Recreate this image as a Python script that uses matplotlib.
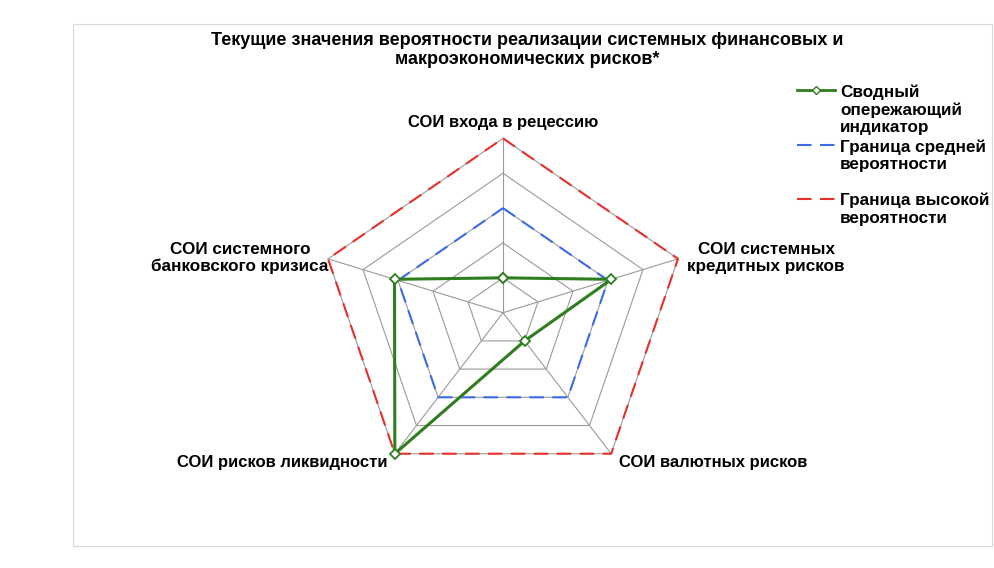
import numpy as np
import matplotlib
matplotlib.use("Agg")
import matplotlib.pyplot as plt
from matplotlib.lines import Line2D
from matplotlib.patches import Rectangle

categories = ["СОИ входа в рецессию",
              "СОИ системных\nкредитных рисков",
              "СОИ валютных рисков",
              "СОИ рисков ликвидности",
              "СОИ системного\nбанковского кризиса"]
composite = [0.2, 0.62, 0.2, 1.0, 0.62]
medium_bound = [0.6, 0.6, 0.6, 0.6, 0.6]
high_bound = [1.0, 1.0, 1.0, 1.0, 1.0]
grid_levels = [0.2, 0.4, 0.6, 0.8, 1.0]
series_names = ["Сводный\nопережающий\nиндикатор",
                "Граница средней\nвероятности",
                "Граница высокой\nвероятности"]
title = "Текущие значения вероятности реализации системных финансовых и\nмакроэкономических рисков*"

W, H = 994, 568
cx, cy = 503, 312.7
rx, ry = 184, 174.3

WIDE = ["Liberation Sans", "DejaVu Sans"]
NARROW = ["Liberation Sans Narrow", "Liberation Sans", "DejaVu Sans"]

fig = plt.figure(figsize=(W / 100, H / 100), dpi=100)
ax = fig.add_axes([0, 0, 1, 1])
ax.set_xlim(-cx / rx, (W - cx) / rx)
ax.set_ylim(-(H - cy) / ry, cy / ry)
ax.axis("off")

def px(x, y):
    return x / W, 1 - y / H

# chart area border
fig.add_artist(Rectangle(px(73, 546), (992 - 73) / W, (546 - 24) / H,
                         transform=fig.transFigure, fill=False,
                         ec="#d9d9d9", lw=0.8))

n = len(categories)
theta = 2 * np.pi * np.arange(n) / n

def closed(vals):
    v = np.asarray(vals, dtype=float)
    x = v * np.sin(theta)
    y = v * np.cos(theta)
    return np.append(x, x[0]), np.append(y, y[0])

# grid
for lv in grid_levels:
    gx, gy = closed([lv] * n)
    ax.plot(gx, gy, color="#9a9a9a", lw=0.8, zorder=1)
for t in theta:
    ax.plot([0, np.sin(t)], [0, np.cos(t)], color="#9a9a9a", lw=0.8, zorder=1)

hx, hy = closed(high_bound)
ax.plot(hx, hy, color="#e8302a", lw=1.5, dashes=(7, 4), zorder=2)
mx, my = closed(medium_bound)
ax.plot(mx, my, color="#3c6ae8", lw=1.5, dashes=(7, 4), zorder=2)
sx, sy = closed(composite)
ax.plot(sx, sy, color="#2e7d1f", lw=2.2, marker="D", ms=5.5,
        mfc="white", mec="#2e7d1f", mew=1.3, zorder=3)

# axis labels
label_pos = [(503, 123, NARROW, 12), (766, 258, WIDE, 12.3),
             (713, 463, NARROW, 12), (282, 463, NARROW, 12),
             (240, 258, WIDE, 12.3)]
for lab, (lx, ly, fam, fs) in zip(categories, label_pos):
    fig.text(*px(lx, ly), lab, ha="center", va="center", fontsize=fs,
             fontweight="bold", family=fam, linespacing=1.2)

fig.text(*px(527, 50), title, ha="center", va="center", fontsize=13,
         fontweight="bold", family=NARROW, linespacing=1.2)

# legend
leg_styles = [dict(color="#2e7d1f", lw=2, marker="D", ms=4.5, mfc="white",
                   mec="#2e7d1f", markevery=[1]),
              dict(color="#3c6ae8", lw=1.5, dashes=(7, 4)),
              dict(color="#e8302a", lw=1.5, dashes=(7, 4))]
leg_y = [90, 145, 199]
for name, st, yy in zip(series_names, leg_styles, leg_y):
    x0, y0 = px(797, yy)
    x1, _ = px(835, yy)
    fig.add_artist(Line2D([x0, (x0 + x1) / 2, x1], [y0, y0, y0],
                          transform=fig.transFigure, **st))
    fig.text(*px(840, yy - 6), name, ha="left", va="top", fontsize=12.3,
             fontweight="bold", family=WIDE, linespacing=1.2)

fig.savefig("out.png", dpi=100)
